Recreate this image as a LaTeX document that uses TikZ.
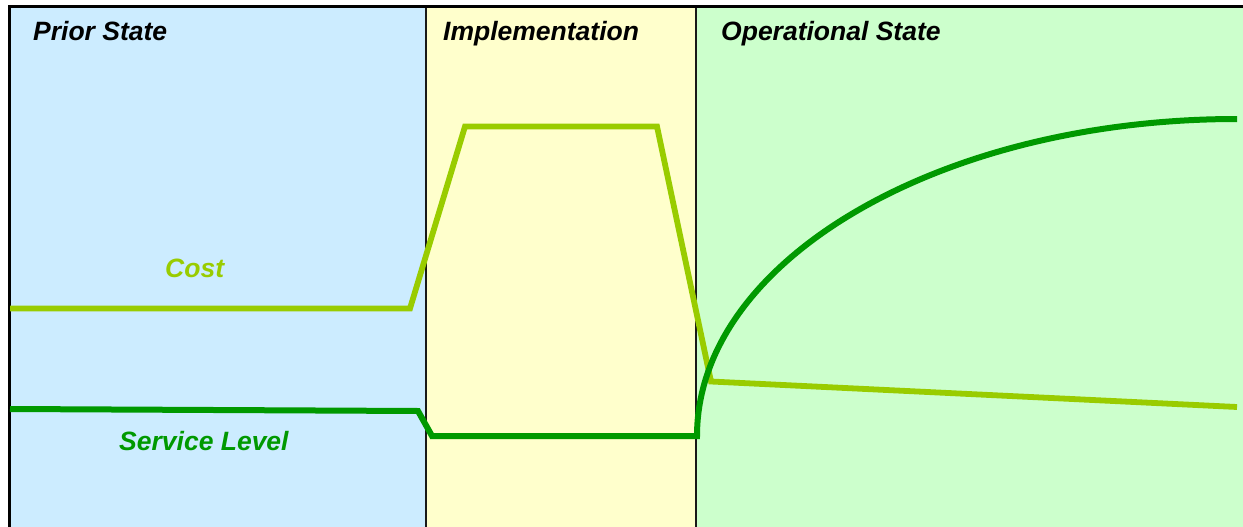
\documentclass[tikz,border=0pt]{standalone}
\usepackage{fontspec}
\setmainfont{Liberation Sans}
\definecolor{priorblue}{HTML}{CCECFF}
\definecolor{implyellow}{HTML}{FFFFCC}
\definecolor{opgreen}{HTML}{CCFFCC}
\definecolor{costgreen}{HTML}{99CC00}
\definecolor{servgreen}{HTML}{009900}
\tikzset{
  heading/.style={anchor=base west, inner sep=0pt, font=\fontsize{26.5}{29}\selectfont\bfseries\itshape, text=black},
  curvelabel/.style={anchor=base west, inner sep=0pt, font=\fontsize{26.5}{29}\selectfont\bfseries\itshape},
  divider/.style={draw=black!90, line width=2.2pt},
  frameline/.style={draw=black, line width=3pt},
  costline/.style={draw=costgreen, line width=5.8pt},
  servline/.style={draw=servgreen, line width=6pt}
}
\begin{document}
\begin{tikzpicture}[x=1pt,y=-1pt]
\useasboundingbox (0,0) rectangle (1243,527);
% panels
\fill[priorblue] (9,7) rectangle (426,527);
\fill[implyellow] (426,7) rectangle (696,527);
\fill[opgreen] (696,7) rectangle (1243,527);
% dividers
\draw[divider] (426,7) -- (426,527);
\draw[divider] (696,7) -- (696,527);
% frame
\draw[frameline] (9,527) -- (9,7) -- (1243,7);
% headings
\node[heading] (prior) at (33,40.5) {Prior State};
\node[heading] (impl) at (443,40.5) {Implementation};
\node[heading] (oper) at (721,40.5) {Operational State};
% cost curve
\coordinate (c0) at (10,308.5);
\coordinate (c1) at (410,308.5);
\coordinate (c2) at (465,126.5);
\coordinate (c3) at (657,126.5);
\coordinate (c4) at (711,381.5);
\coordinate (c5) at (1237,407);
\draw[costline] (c0) -- (c1) -- (c2) -- (c3) -- (c4) -- (c5);
% service curve
\coordinate (s0) at (10,409);
\coordinate (s1) at (418,411);
\coordinate (s2) at (432,436);
\coordinate (s3) at (697,436);
\coordinate (s4) at (1237,119);
\draw[servline] (s0) -- (s1) -- (s2) -- (s3)
  .. controls (697,261) and (939,119) .. (s4);
% labels
\node[curvelabel, text=costgreen] (costlbl) at (165,277) {Cost};
\node[curvelabel, text=servgreen] (servlbl) at (119,450) {Service Level};
\end{tikzpicture}
\end{document}
